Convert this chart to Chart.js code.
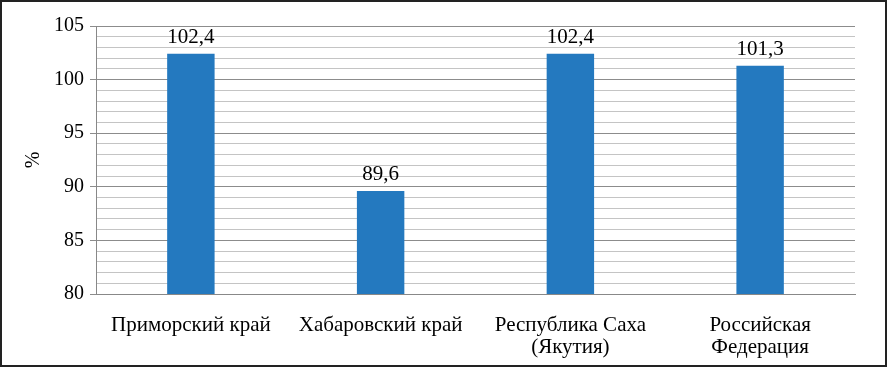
<!DOCTYPE html>
<html>
<head>
<meta charset="utf-8">
<script src="https://cdn.jsdelivr.net/npm/chart.js@4/dist/chart.umd.min.js"></script>
<style>
    body { margin: 0; background: #fff; font-family: "Liberation Serif", serif; }
    #wrap { width: 887px; height: 367px; border: 2px solid #222; box-sizing: border-box; }
    canvas { display: block; }
</style>
</head>
<body>
<div id="wrap"><canvas id="chart" width="883" height="363"></canvas></div>
<script>
// regions and index values (%)
const regions = ['Приморский край', 'Хабаровский край', ['Республика Саха', '(Якутия)'], ['Российская', 'Федерация']];
const values = [102.4, 89.6, 102.4, 101.3];
const yMin = 80;
const yMax = 105;

const SERIF_FONT = '"Liberation Serif", serif';

// value labels above the bars, comma as decimal sign
const valueLabels = {
    id: 'valueLabels',
    afterDatasetsDraw(chart) {
        const ctx = chart.ctx;
        const meta = chart.getDatasetMeta(0);
        ctx.save();
        ctx.font = '21px ' + SERIF_FONT;
        ctx.fillStyle = '#000';
        ctx.textAlign = 'center';
        ctx.textBaseline = 'bottom';
        meta.data.forEach((bar, i) => {
            ctx.fillText(values[i].toFixed(1).replace('.', ','), bar.x, bar.y - 6);
        });
        ctx.restore();
    }
};

const chart = new Chart(document.getElementById('chart'), {
    type: 'bar',
    data: {
        labels: regions,
        datasets: [{
            data: values,
            backgroundColor: '#2479bf',
            categoryPercentage: 1,
            barPercentage: 0.25,
        }],
    },
    options: {
        responsive: false,
        animation: false,
        layout: { padding: { top: 24, right: 30, left: 20, bottom: 4 } },
        plugins: { legend: { display: false }, tooltip: { enabled: false } },
        scales: {
            x: {
                grid: { display: false, drawTicks: false },
                border: { color: '#888', width: 1 },
                ticks: { color: '#000', font: { family: SERIF_FONT, size: 21, lineHeight: 1.05 }, padding: 20, maxRotation: 0, autoSkip: false },
                afterFit(scale) { scale.height = 67; },
            },
            y: {
                min: yMin,
                max: yMax,
                title: { display: true, text: '%', color: '#000', font: { family: SERIF_FONT, size: 20 }, padding: 0 },
                border: { color: '#888', width: 1 },
                grid: {
                    color: c => (c.tick && c.tick.value % 5 === 0) ? '#8c8c8c' : '#c4c4c4',
                    tickColor: c => (c.tick && c.tick.value % 5 === 0) ? '#8c8c8c' : 'rgba(0,0,0,0)',
                    tickLength: 6,
                    lineWidth: 1,
                },
                ticks: {
                    stepSize: 1,
                    autoSkip: false,
                    color: '#000',
                    font: { family: SERIF_FONT, size: 20 },
                    padding: 6,
                    callback: v => (v % 5 === 0 ? v : ''),
                },
                afterFit(scale) { scale.width = 74; },
            },
        },
    },
    plugins: [valueLabels],
});

// redraw once the serif font is really available to the canvas
function redraw() { chart.update('none'); }
document.fonts.load('21px "Liberation Serif"').then(redraw);
document.fonts.ready.then(redraw);
window.addEventListener('load', redraw);
setTimeout(redraw, 150);
setTimeout(redraw, 500);
</script>
</body>
</html>
